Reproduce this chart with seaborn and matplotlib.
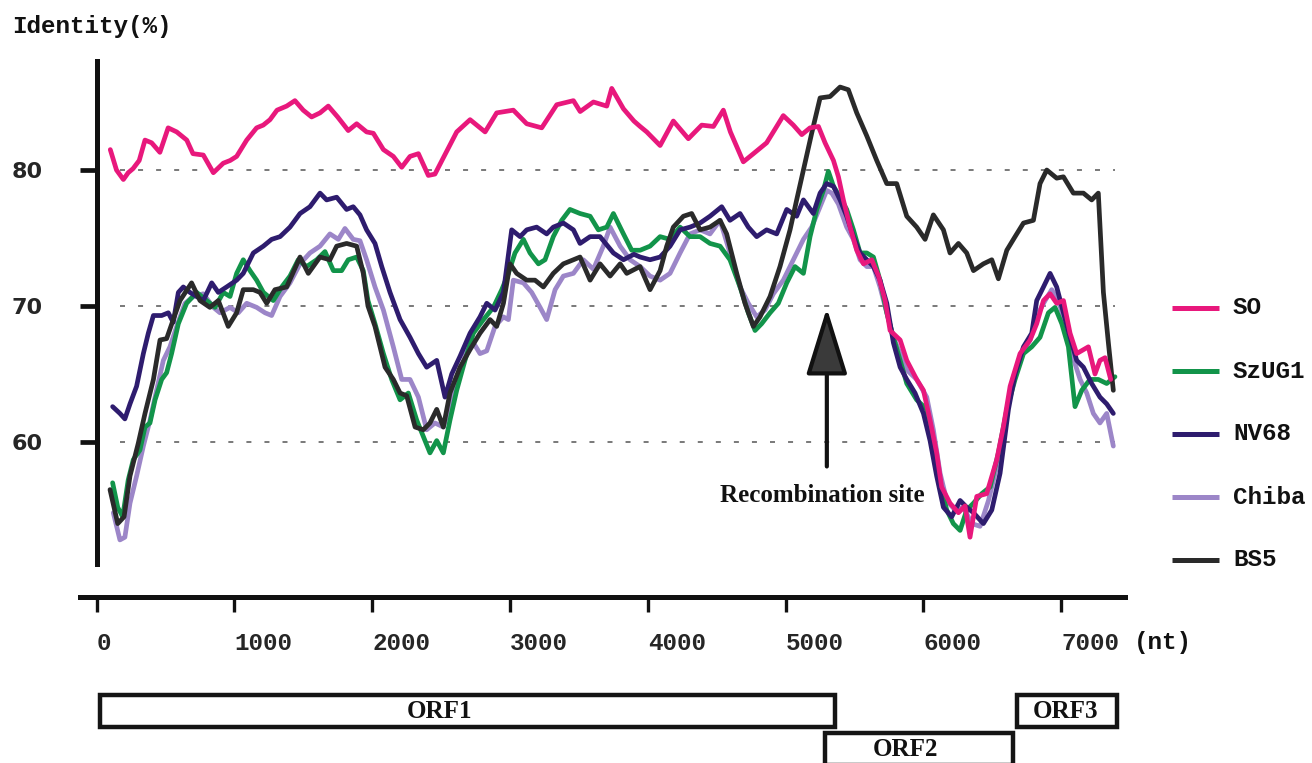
import numpy as np
import pandas as pd
import matplotlib
matplotlib.use("Agg")
import matplotlib.pyplot as plt
import matplotlib.transforms as mtrans
from matplotlib.lines import Line2D
from matplotlib.patches import Rectangle, FancyArrowPatch, ArrowStyle
import seaborn as sns

# ---------------- data ----------------
so_nt = [100,145,195,230,265,310,352,400,460,520,582,655,700,775,848,920,970,1017,1090,1162,1210,1259,1310,1380,1440,1500,1561,1622,1682,1750,1827,1888,1960,2009,2082,2154,2215,2275,2336,2408,2456,2517,2614,2711,2820,2904,3025,3122,3231,3340,3461,3510,3606,3703,3739,3824,3900,3945,3993,4090,4186,4295,4392,4477,4549,4600,4694,4767,4863,4936,4984,5057,5118,5178,5239,5287,5348,5384,5420,5469,5517,5566,5626,5675,5723,5759,5832,5880,5952,6001,6049,6097,6133,6194,6255,6303,6339,6388,6460,6533,6581,6630,6702,6775,6823,6872,6920,6968,7017,7065,7113,7198,7246,7282,7319,7360]
so_val = [81.5,80.0,79.3,79.8,80.1,80.7,82.2,82.0,81.3,83.1,82.8,82.2,81.2,81.1,79.8,80.5,80.7,81.0,82.2,83.1,83.3,83.7,84.4,84.7,85.1,84.4,83.9,84.2,84.7,83.9,82.9,83.4,82.8,82.7,81.5,81.0,80.2,81.0,81.2,79.6,79.7,80.9,82.8,83.7,82.8,84.2,84.4,83.4,83.1,84.8,85.1,84.3,85.0,84.7,86.0,84.5,83.6,83.2,82.8,81.8,83.6,82.3,83.3,83.2,84.4,82.8,80.6,81.2,82.0,83.2,84.0,83.3,82.6,83.1,83.2,82.0,80.7,79.5,77.8,75.8,74.1,73.1,73.4,72.2,70.4,68.2,67.5,66.0,64.6,63.8,61.6,59.2,56.7,55.5,54.8,55.3,53.0,56.0,56.2,58.7,61.1,64.1,66.5,67.5,68.7,70.4,70.9,70.2,70.4,68.0,66.5,67.0,65.0,66.0,66.2,64.6]

szug1_nt = [117,154,190,230,267,315,352,388,425,473,509,545,594,654,727,799,860,920,969,1017,1065,1114,1162,1211,1283,1344,1404,1464,1525,1598,1658,1719,1779,1827,1888,1936,1970,2021,2082,2142,2203,2263,2324,2384,2420,2469,2517,2565,2614,2674,2735,2808,2880,2941,2989,3037,3098,3146,3207,3255,3315,3376,3436,3509,3582,3642,3703,3751,3824,3884,3945,4017,4090,4162,4235,4307,4380,4452,4525,4597,4670,4730,4779,4827,4888,4948,5009,5069,5130,5178,5227,5275,5311,5348,5396,5444,5493,5541,5590,5638,5686,5735,5783,5832,5880,5952,6025,6073,6122,6170,6218,6267,6315,6364,6424,6485,6545,6606,6666,6727,6787,6847,6908,6956,7005,7053,7101,7150,7210,7270,7331,7391]
szug1_val = [57.0,55.2,54.5,57.2,58.7,59.4,61.1,61.4,63.1,64.6,65.1,66.5,68.7,70.2,71.0,70.4,69.9,71.0,70.7,72.4,73.4,72.6,71.9,71.0,70.4,71.4,72.2,73.4,72.9,73.4,74.0,72.6,72.6,73.4,73.6,72.6,70.4,68.7,66.5,64.6,63.1,63.6,61.6,60.1,59.2,60.1,59.2,61.6,63.8,66.0,68.0,69.0,69.9,71.2,72.4,73.9,74.9,73.9,73.1,73.4,75.1,76.3,77.1,76.8,76.6,75.6,75.8,76.8,75.3,74.1,74.1,74.4,75.1,74.9,75.8,75.1,75.1,74.6,74.4,73.4,71.4,69.5,68.2,68.7,69.5,70.2,71.7,72.9,72.4,75.1,77.1,78.5,79.9,78.8,78.0,77.1,75.6,73.9,73.9,73.6,71.9,69.5,67.7,66.0,64.3,63.1,62.4,59.9,57.0,55.0,54.0,53.5,55.0,55.5,56.2,56.7,59.2,62.4,64.6,66.5,67.0,67.7,69.5,69.9,68.7,67.0,62.6,63.8,64.6,64.6,64.3,64.8]

nv68_nt = [117,170,206,243,291,340,376,413,473,521,557,594,630,678,775,836,884,944,1017,1065,1138,1211,1271,1332,1404,1477,1549,1622,1670,1743,1815,1863,1912,1960,2021,2070,2130,2203,2275,2336,2396,2469,2529,2578,2638,2711,2783,2832,2892,2953,3013,3074,3122,3194,3267,3315,3388,3461,3509,3582,3654,3751,3824,3900,3945,4017,4090,4162,4235,4307,4380,4452,4537,4597,4670,4730,4791,4863,4936,5009,5081,5130,5202,5251,5299,5348,5396,5444,5493,5541,5590,5638,5686,5735,5783,5832,5880,5940,6001,6049,6097,6146,6206,6267,6315,6364,6436,6497,6557,6618,6666,6727,6787,6823,6872,6920,6968,7017,7065,7113,7162,7222,7282,7331,7379]
nv68_val = [62.6,62.1,61.7,62.8,64.1,66.5,68.0,69.3,69.3,69.5,68.8,71.0,71.4,71.0,70.4,71.7,71.0,71.4,71.9,72.4,73.9,74.4,74.9,75.1,75.8,76.8,77.3,78.3,77.8,78.0,77.1,77.3,76.7,75.6,74.6,72.9,71.0,69.0,67.7,66.5,65.5,66.0,63.3,65.0,66.3,68.0,69.2,70.2,69.7,71.0,75.6,75.1,75.6,75.8,75.3,75.8,76.1,75.6,74.6,75.1,75.1,73.9,73.4,73.8,73.6,73.4,73.6,74.4,75.6,75.8,76.1,76.6,77.3,76.3,76.8,75.8,75.1,75.6,75.3,77.1,76.6,77.8,76.8,78.3,79.0,78.8,77.8,76.6,75.1,73.9,73.4,72.9,71.9,70.2,67.3,65.5,64.6,63.6,62.1,60.1,57.5,55.2,54.5,55.7,55.2,54.8,54.0,55.0,57.7,62.4,65.0,67.0,68.0,70.4,71.4,72.4,71.4,69.5,67.7,66.0,65.5,64.3,63.3,62.8,62.1]

chiba_nt = [122,170,206,243,291,340,388,436,485,533,582,642,703,775,848,896,969,1029,1090,1162,1223,1271,1332,1404,1477,1549,1622,1694,1755,1803,1863,1912,1960,2021,2082,2154,2215,2275,2336,2396,2456,2517,2578,2638,2711,2783,2832,2892,2953,2989,3025,3098,3158,3219,3267,3328,3388,3461,3533,3606,3678,3727,3800,3872,3945,4017,4090,4162,4235,4307,4380,4452,4525,4597,4670,4730,4791,4851,4912,4984,5057,5130,5190,5251,5299,5336,5384,5444,5493,5541,5590,5638,5686,5735,5783,5832,5880,5952,6025,6073,6122,6170,6230,6291,6352,6412,6473,6533,6594,6654,6715,6775,6835,6884,6932,6981,7029,7077,7138,7186,7234,7282,7331,7379]
chiba_val = [54.8,52.8,53.0,55.5,57.5,59.7,61.6,63.8,66.0,67.0,68.5,70.2,70.7,70.9,69.9,69.5,69.9,69.5,70.2,69.9,69.5,69.3,70.7,71.7,73.1,73.9,74.4,75.3,74.9,75.7,74.9,74.8,73.4,71.4,69.7,67.0,64.6,64.6,63.3,60.9,61.4,61.1,63.1,65.0,67.7,66.5,66.7,68.5,69.2,69.0,71.9,71.7,71.0,69.9,69.0,71.2,72.2,72.4,73.4,72.7,74.4,75.8,74.4,73.4,72.9,72.2,71.9,72.4,73.9,75.3,75.6,75.3,76.3,73.9,71.4,70.2,69.2,69.7,70.9,71.9,73.4,74.9,75.8,77.3,78.5,78.3,77.5,75.8,74.9,73.4,72.9,72.9,71.4,69.5,67.7,66.5,65.3,64.6,63.3,60.9,57.7,55.7,55.0,55.2,54.0,53.8,55.7,58.2,61.6,64.8,66.5,67.5,69.5,70.4,71.2,70.4,68.7,66.5,64.6,63.6,62.1,61.4,62.1,59.7]

bs5_nt = [98,154,200,243,303,352,413,461,509,557,606,690,751,823,884,956,1017,1065,1138,1186,1235,1295,1380,1477,1537,1622,1694,1743,1815,1888,1936,1970,2021,2094,2154,2203,2251,2312,2372,2420,2469,2517,2565,2638,2711,2783,2856,2904,2953,3001,3049,3122,3182,3243,3315,3388,3461,3509,3582,3654,3727,3800,3848,3944,4017,4090,4138,4186,4259,4319,4380,4452,4525,4573,4646,4706,4767,4815,4888,4960,5033,5081,5130,5190,5251,5323,5396,5456,5517,5590,5662,5735,5807,5880,5952,6013,6073,6146,6194,6255,6315,6364,6436,6497,6545,6606,6666,6727,6799,6847,6896,6968,7017,7089,7162,7222,7270,7307,7343,7379]
bs5_val = [56.5,54.0,54.5,57.5,59.9,62.1,64.6,67.5,67.6,69.0,70.4,71.7,70.4,69.9,70.4,68.5,69.5,71.2,71.2,71.0,70.2,71.2,71.4,73.6,72.4,73.6,73.4,74.4,74.6,74.4,72.4,70.0,68.5,65.5,64.6,63.6,63.4,61.1,60.9,61.4,62.4,61.1,63.6,65.5,66.8,68.0,69.0,68.5,70.2,73.1,72.4,71.9,71.9,71.4,72.4,73.1,73.4,73.6,71.9,73.1,72.2,73.1,72.4,72.9,71.2,72.6,74.4,75.8,76.6,76.8,75.6,75.8,76.3,75.3,72.4,70.2,68.5,69.2,70.7,72.9,75.6,77.8,80.0,82.7,85.3,85.4,86.1,85.9,84.2,82.5,80.7,79.0,79.0,76.6,75.8,74.9,76.7,75.6,73.9,74.6,73.9,72.6,73.1,73.4,72.0,74.1,75.1,76.1,76.3,79.0,80.0,79.4,79.5,78.3,78.3,77.8,78.3,71.0,67.3,63.8]

strains = ["SO", "SzUG1", "NV68", "Chiba", "BS5"]
colors = ["#E8187C", "#12944A", "#2E1C6E", "#9C86C8", "#2A2A2A"]
draw_order = ["Chiba", "SzUG1", "NV68", "BS5", "SO"]

y_ticks = [60, 70, 80]
x_ticks = [0, 1000, 2000, 3000, 4000, 5000, 6000, 7000]

orf_names = ["ORF1", "ORF2", "ORF3"]
orf_start = [25, 5290, 6680]
orf_end = [5360, 6650, 7405]
orf_label_nt = [2490, 5870, 7035]
orf_row = [0, 1, 0]

recomb_site = 5300

# ---------------- table ----------------
series = {
    "SO": (so_nt, so_val), "SzUG1": (szug1_nt, szug1_val), "NV68": (nv68_nt, nv68_val),
    "Chiba": (chiba_nt, chiba_val), "BS5": (bs5_nt, bs5_val),
}
frames = []
for name, (xs, ys) in series.items():
    frames.append(pd.DataFrame({"nt": xs, "identity": ys, "strain": name}))
df = pd.concat(frames, ignore_index=True)
palette = dict(zip(strains, colors))

# ---------------- figure ----------------
sns.set_theme(style="white")
plt.rcParams["font.family"] = ["DejaVu Sans"]
plt.rcParams["lines.scale_dashes"] = False
MONO = ["Liberation Mono", "DejaVu Sans Mono"]
SERIF = ["Liberation Serif", "DejaVu Serif"]

W, H = 1312, 763
fig = plt.figure(figsize=(W / 100, H / 100), dpi=100)
fig.patch.set_facecolor("white")

PX0, PPN = 96.5, 0.1378          # pixel of nt=0 and pixels per nt
left_px, right_px = 80, 1125
top_px, bot_px = 61.2, 564.4
ax = fig.add_axes([left_px / W, 1 - bot_px / H, (right_px - left_px) / W, (bot_px - top_px) / H])
ax.set_facecolor("white")

# dotted reference lines
ax.hlines(y_ticks, 170, 7390, colors="#555555", linestyles=[(0, (3.6, 9.4))], linewidth=1.1, zorder=0.5)

sns.lineplot(data=df, x="nt", y="identity", hue="strain", hue_order=draw_order,
             palette=palette, estimator=None, sort=False, legend=False,
             linewidth=3.4, ax=ax, zorder=2)
for ln in ax.get_lines():
    ln.set_linewidth(3.4)
    ln.set_solid_joinstyle("round")

ax.set_xlim((left_px - PX0) / PPN, (right_px - PX0) / PPN)
ax.set_ylim(51, 88)
ax.set_xlabel("")
ax.set_ylabel("")

for s in ["top", "right"]:
    ax.spines[s].set_visible(False)
ax.spines["left"].set_position(("data", 0))
ax.spines["left"].set_linewidth(3.6)
ax.spines["left"].set_color("#111111")
ax.spines["bottom"].set_position(("outward", (597 - bot_px) * 0.72))
ax.spines["bottom"].set_linewidth(3.6)
ax.spines["bottom"].set_color("#111111")

ax.set_yticks(y_ticks)
ax.set_yticklabels([str(v) for v in y_ticks])
ax.tick_params(axis="y", direction="out", length=12, width=3.4, color="#111111",
               pad=27, labelsize=16, left=True)
for lab in ax.get_yticklabels():
    lab.set_fontweight("bold")
    lab.set_family(["DejaVu Sans"])

ax.set_xticks(x_ticks)
ax.set_xticklabels([str(v) for v in x_ticks])
ax.tick_params(axis="x", direction="out", length=11, width=2.4, color="#111111",
               pad=14, labelsize=17.5, bottom=True)
for lab in ax.get_xticklabels():
    lab.set_fontweight("bold")
    lab.set_family(MONO)
    lab.set_horizontalalignment("left")

fig.text(1134 / W, 1 - 642 / H, "(nt)", fontsize=17.5, fontweight="bold", family=MONO,
         ha="left", va="center", color="#111111")
fig.text(12 / W, 1 - 33 / H, "Identity(%)", fontsize=17.5, fontweight="bold", family=MONO,
         ha="left", va="baseline", color="#111111")

# recombination arrow
arrow = FancyArrowPatch(posA=(recomb_site, 58.2), posB=(recomb_site, 69.85),
                        arrowstyle=ArrowStyle("-|>", head_length=42, head_width=13),
                        mutation_scale=1, linewidth=3.0, edgecolor="#111111",
                        facecolor="#3a3a3a", shrinkA=0, shrinkB=0, zorder=3)
ax.add_patch(arrow)
ax.text(recomb_site - 30, 56.1, "Recombination site", ha="center", va="center",
        fontsize=18, fontweight="bold", family=SERIF, color="#111111")

# legend (manual)
leg_y = [308, 371, 434, 497, 560]
for name, col, yy in zip(strains, colors, leg_y):
    fig.add_artist(Line2D([1172 / W, 1219 / W], [1 - yy / H, 1 - yy / H],
                          transform=fig.transFigure, color=col, linewidth=3.6,
                          solid_capstyle="butt"))
    fig.text(1233 / W, 1 - yy / H, name, fontsize=17.5, fontweight="bold", family=MONO,
             ha="left", va="center", color="#111111")

# ORF boxes
bt = mtrans.blended_transform_factory(ax.transData, fig.transFigure)
row_top = [695, 733]
row_h = 32
for name, s, e, lx, r in zip(orf_names, orf_start, orf_end, orf_label_nt, orf_row):
    y0 = 1 - (row_top[r] + row_h) / H
    rect = Rectangle((s, y0), e - s, row_h / H, transform=bt, facecolor="white",
                     edgecolor="#151515", linewidth=3.2, clip_on=False)
    ax.add_patch(rect)
    ax.text(lx, y0 + row_h / H / 2, name, transform=bt, ha="center", va="center",
            fontsize=18, fontweight="bold", family=SERIF, color="#111111", clip_on=False)

fig.savefig("out.png", dpi=100, facecolor="white")
